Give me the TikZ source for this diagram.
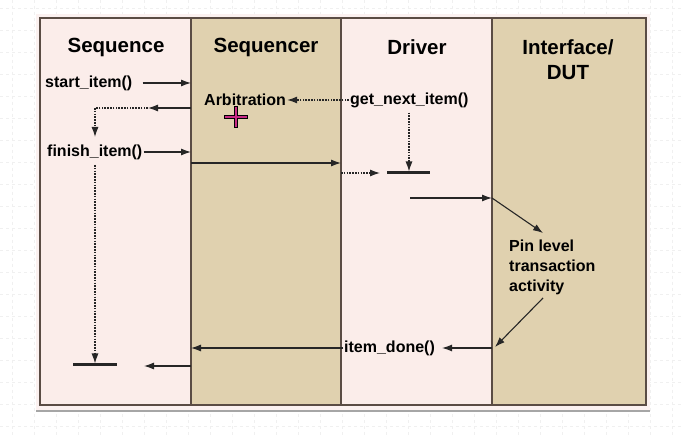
\documentclass[tikz,border=0pt]{standalone}
\usepackage{fontspec}
\setmainfont{Liberation Sans}
\usetikzlibrary{arrows.meta}
\definecolor{lanepink}{HTML}{FBEDEA}
\definecolor{lanetan}{HTML}{E0D1AF}
\definecolor{rimpink}{HTML}{FBF1F0}
\definecolor{framecol}{HTML}{5A4C44}
\tikzset{
  head/.style={font=\fontsize{20.5}{25}\selectfont\bfseries, align=center, inner sep=0pt},
  lbl/.style={font=\fontsize{16}{20}\selectfont\bfseries, inner sep=1pt},
  msg/.style={->, line width=1.1pt, black!85},
  dmsg/.style={->, line width=1.1pt, black!85, dash pattern=on 1.6pt off 1.2pt},
  dline/.style={line width=1.1pt, black!85, dash pattern=on 1.6pt off 1.2pt},
  waitbar/.style={line width=3pt, black!85}
}
\begin{document}
\begin{tikzpicture}[x=1pt, y=-1pt, >={Latex[length=10pt,width=7pt]}]
  \useasboundingbox (0,0) rectangle (683,438);
  \fill[white] (0,0) rectangle (683,438);
  % faint grid of the page
  \foreach \i in {0,...,31} \draw[black!6, dashed, line width=0.4pt] (\i*22+12,0) -- (\i*22+12,438);
  \foreach \j in {0,...,19} \draw[black!6, dashed, line width=0.4pt] (0,\j*22+8) -- (683,\j*22+8);
  % lanes
  \fill[rimpink] (36,14) rectangle (650,410);
  \draw[black!35, line width=1.5pt] (36,411) -- (650,411);
  \fill[lanepink] (40,18) rectangle (191,405);
  \fill[lanetan] (191,18) rectangle (341,405);
  \fill[lanepink] (341,18) rectangle (492,405);
  \fill[lanetan] (492,18) rectangle (646,405);
  \draw[framecol, line width=1.3pt] (40,18) rectangle (646,405);
  \foreach \x in {191,341,492} \draw[framecol, line width=1.3pt] (\x,18) -- (\x,405);
  \coordinate (sqrL) at (191,0);
  \coordinate (drvL) at (341,0);
  \coordinate (dutL) at (492,0);
  % headings
  \node[head] (seq) at (116,47) {Sequence};
  \node[head] (sqr) at (266,47) {Sequencer};
  \node[head] (drv) at (417,47) {Driver};
  \node[head, text depth=0pt] (dut) at (568,60) {Interface/\\DUT};
  % sequence side
  \node[lbl, anchor=west] (start) at (44,83) {start\_item()};
  \draw[msg] ([xshift=9pt]start.east) -- (start.east -| sqrL);
  \node[lbl, anchor=west] (arb) at (203,100) {Arbitration};
  \node[lbl, anchor=west] (gni) at (349,100) {get\_next\_item()};
  \draw[dmsg] (gni.west) -- (arb.east);
  \coordinate (ack) at (148,108);
  \coordinate (ret) at (95,108);
  \coordinate (wait) at (95,137);
  \draw[msg] (sqrL |- ack) -- (ack);
  \draw[dline] (ack) -- (ret);
  \draw[dmsg] (ret) -- (wait);
  \node[lbl, anchor=west] (fin) at (46,152) {finish\_item()};
  \draw[msg] (fin.east) -- (fin.east -| sqrL);
  \coordinate (seqbar) at (95,365);
  \draw[waitbar] (73,365) -- (117,365);
  \draw[dmsg, shorten >=1.5pt] (95,165) -- (seqbar);
  \coordinate (back) at (144,366);
  \draw[msg] (sqrL |- back) -- (back);
  % driver side
  \coordinate (grant) at (0,163);
  \draw[msg] (sqrL |- grant) -- (drvL |- grant);
  \coordinate (drvbar) at (409,173);
  \draw[waitbar] (387,173) -- (430,173);
  \draw[dmsg] (drvL |- drvbar) -- (380,173);
  \draw[dmsg, shorten >=1.5pt] (gni.south -| drvbar) ++(0,4) -- (drvbar);
  \coordinate (drive) at (410,198);
  \draw[msg] (drive) -- (dutL |- drive);
  \node[lbl, anchor=west, align=left, font=\fontsize{16}{20}\selectfont\bfseries] (pin) at (508,267) {Pin level\\transaction\\activity};
  \draw[msg] (dutL |- drive) -- (543,233);
  \coordinate (resp) at (495,347);
  \draw[msg] (543,298) -- (resp);
  \node[lbl, anchor=west] (done) at (343,348) {item\_done()};
  \draw[msg] (dutL |- done) -- ([xshift=6pt]done.east);
  \draw[msg] (done.west) -- (done.west -| sqrL);
  % mouse cursor
  \draw[black, line width=3.4pt] (224,117) -- (248,117) (236,106) -- (236,128);
  \draw[magenta!80!black, line width=1.8pt] (225,117) -- (247,117) (236,107) -- (236,127);
\end{tikzpicture}
\end{document}
